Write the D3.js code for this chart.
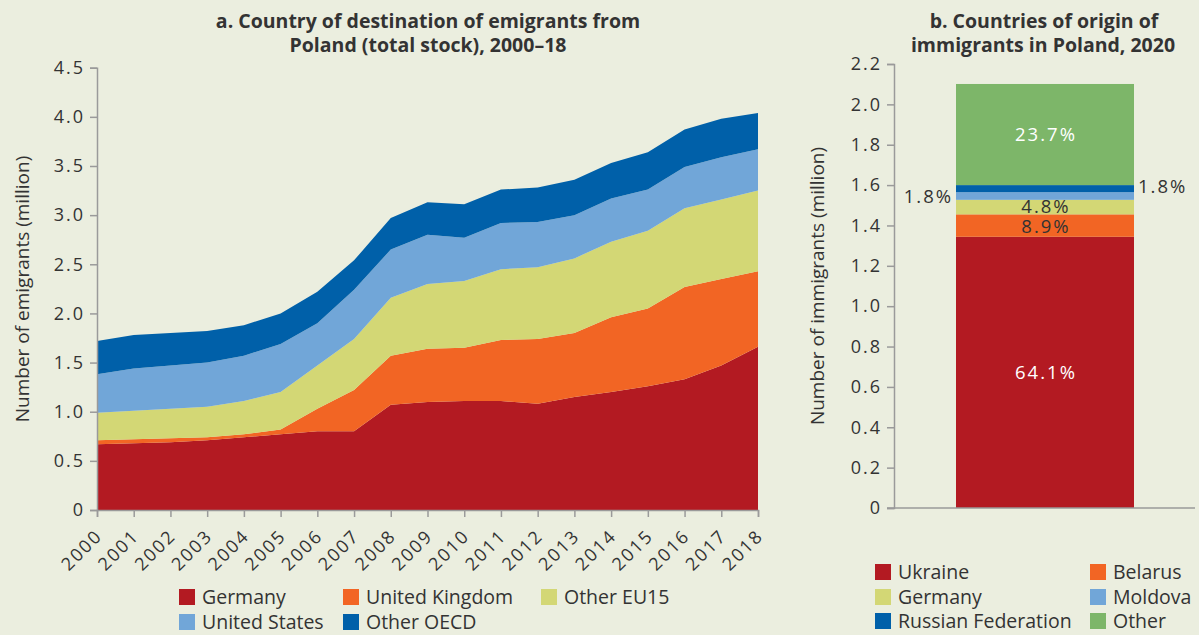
<!DOCTYPE html>
<html><head><meta charset="utf-8">
<script src="https://cdn.jsdelivr.net/npm/d3@7"></script>
<style>
html,body{margin:0;padding:0;background:#EBEEDF;}
svg{display:block;font-family:"Open Sans",sans-serif;}
</style></head><body>
<svg id="c" width="1199" height="635"></svg>
<script>
// ---- Data: panel a ----
const years = [2000,2001,2002,2003,2004,2005,2006,2007,2008,2009,2010,2011,2012,2013,2014,2015,2016,2017,2018];
const seriesNames = ["Germany","United Kingdom","Other EU15","United States","Other OECD"];
const germany  = [0.67,0.68,0.69,0.71,0.74,0.77,0.80,0.80,1.07,1.10,1.11,1.11,1.08,1.15,1.20,1.26,1.33,1.47,1.66];
const uk       = [0.04,0.04,0.04,0.03,0.03,0.05,0.23,0.42,0.50,0.54,0.54,0.62,0.66,0.65,0.76,0.79,0.94,0.88,0.77];
const otherEU  = [0.28,0.29,0.30,0.31,0.34,0.38,0.44,0.52,0.59,0.66,0.68,0.72,0.73,0.76,0.77,0.79,0.80,0.81,0.82];
const usa      = [0.39,0.43,0.44,0.45,0.46,0.49,0.43,0.50,0.49,0.50,0.44,0.47,0.46,0.44,0.44,0.42,0.42,0.43,0.42];
const otherOECD= [0.34,0.34,0.33,0.32,0.31,0.31,0.32,0.30,0.32,0.33,0.34,0.34,0.35,0.36,0.36,0.38,0.38,0.39,0.37];
const yTicksA = [0,0.5,1.0,1.5,2.0,2.5,3.0,3.5,4.0,4.5];
const yTickLabelsA = ["0","0.5","1.0","1.5","2.0","2.5","3.0","3.5","4.0","4.5"];

// ---- Data: panel b ----
const origins = ["Ukraine","Belarus","Germany","Moldova","Russian Federation","Other"];
const originValues = [1.344,0.111,0.072,0.038,0.035,0.501];
const originLabels = ["64.1%","8.9%","4.8%","1.8%","1.8%","23.7%"];
const yTicksB = [0,0.2,0.4,0.6,0.8,1.0,1.2,1.4,1.6,1.8,2.0,2.2];
const yTickLabelsB = ["0","0.2","0.4","0.6","0.8","1.0","1.2","1.4","1.6","1.8","2.0","2.2"];

const colorsA = ["#B31A22","#F26524","#D3D775","#71A6D8","#0060A9"];
const colorsB = ["#B31A22","#F26524","#D3D775","#71A6D8","#0060A9","#7DB669"];
const txt = "#333333", axisCol = "#9a9a9a";
const FONT = "'Open Sans',sans-serif";

const svg = d3.select("#c");

// ================= Panel a =================
const xA = d3.scaleLinear().domain([2000,2018]).range([97,758]);
const yA = d3.scaleLinear().domain([0,4.5]).range([510,67.7]);

const table = years.map((y,i)=>({year:y,"Germany":germany[i],"United Kingdom":uk[i],"Other EU15":otherEU[i],"United States":usa[i],"Other OECD":otherOECD[i]}));
const stacked = d3.stack().keys(seriesNames)(table);
const area = d3.area().x(d=>xA(d.data.year)).y0(d=>yA(d[0])).y1(d=>yA(d[1]));
svg.append("g").selectAll("path").data(stacked).join("path")
  .attr("d",area).attr("fill",(d,i)=>colorsA[i]);

const axA = svg.append("g").attr("transform","translate(97,0)")
  .call(d3.axisLeft(yA).tickValues(yTicksA).tickFormat((d,i)=>yTickLabelsA[i]).tickSize(7).tickPadding(5));
const axXA = svg.append("g").attr("transform","translate(0,510)")
  .call(d3.axisBottom(xA).tickValues(years).tickFormat(d3.format("d")).tickSize(7));
[axA,axXA].forEach(g=>{
  g.select(".domain").attr("stroke",axisCol).attr("stroke-width",1.5);
  g.selectAll(".tick line").attr("stroke",axisCol).attr("stroke-width",1.5);
  g.selectAll("text").attr("fill",txt).style("font-size","18px").style("letter-spacing","2px").style("font-family",FONT);
});
axXA.selectAll(".tick text").attr("text-anchor","end").attr("dy",null).attr("y",0)
  .attr("transform","translate(6,27) rotate(-45)");

svg.append("text").attr("x",428).attr("y",28).attr("text-anchor","middle")
  .attr("fill",txt).style("font-weight","bold").style("font-size","19.5px")
  .text("a. Country of destination of emigrants from");
svg.append("text").attr("x",428).attr("y",52).attr("text-anchor","middle")
  .attr("fill",txt).style("font-weight","bold").style("font-size","19.5px")
  .text("Poland (total stock), 2000–18");
svg.append("text").attr("transform","translate(29,289) rotate(-90)").attr("text-anchor","middle")
  .attr("fill",txt).style("font-size","19px").text("Number of emigrants (million)");

// legend a
const legA = [[179,597],[343,597],[541,597],[179,622],[343,622]];
seriesNames.forEach((n,i)=>{
  const g = svg.append("g").attr("transform",`translate(${legA[i][0]},${legA[i][1]})`);
  g.append("rect").attr("x",0).attr("y",-8).attr("width",16).attr("height",16).attr("fill",colorsA[i]);
  g.append("text").attr("x",23).attr("y",0).attr("dy","0.36em").attr("fill",txt).style("font-size","19.5px").text(n);
});

// ================= Panel b =================
const yB = d3.scaleLinear().domain([0,2.2]).range([508,64]);
let cum = 0;
const segs = originValues.map((v,i)=>{const s={name:origins[i],y0:cum,y1:cum+v,i}; cum+=v; return s;});
svg.append("g").selectAll("rect").data(segs).join("rect")
  .attr("x",956).attr("width",178)
  .attr("y",d=>yB(d.y1)).attr("height",d=>yB(d.y0)-yB(d.y1))
  .attr("fill",d=>colorsB[d.i]);

const axB = svg.append("g").attr("transform","translate(894,0)")
  .call(d3.axisLeft(yB).tickValues(yTicksB).tickFormat((d,i)=>yTickLabelsB[i]).tickSize(7).tickPadding(5));
axB.select(".domain").attr("stroke",axisCol).attr("stroke-width",1.5);
axB.selectAll(".tick line").attr("stroke",axisCol).attr("stroke-width",1.5);
axB.selectAll("text").attr("fill",txt).style("font-size","18px").style("letter-spacing","2px").style("font-family",FONT);
svg.append("line").attr("x1",887).attr("x2",1195).attr("y1",yB(0)).attr("y2",yB(0)).attr("stroke",axisCol).attr("stroke-width",1.5);

// segment labels
const mid = s => yB((s.y0+s.y1)/2);
const labelSpec = [
  {i:0,x:1046,anchor:"middle",fill:"#ffffff",dy:0},
  {i:1,x:1046,anchor:"middle",fill:txt,dy:1},
  {i:2,x:1046,anchor:"middle",fill:txt,dy:-1},
  {i:3,x:953,anchor:"end",fill:txt,dy:0},
  {i:4,x:1138,anchor:"start",fill:txt,dy:-2},
  {i:5,x:1046,anchor:"middle",fill:"#ffffff",dy:0}
];
labelSpec.forEach(l=>{
  svg.append("text").attr("x",l.x).attr("y",mid(segs[l.i])+l.dy).attr("dy","0.36em")
    .attr("text-anchor",l.anchor).attr("fill",l.fill).style("font-size","18.5px").style("letter-spacing","2px")
    .text(originLabels[l.i]);
});

svg.append("text").attr("x",1044).attr("y",28).attr("text-anchor","middle")
  .attr("fill",txt).style("font-weight","bold").style("font-size","19.5px").text("b. Countries of origin of");
svg.append("text").attr("x",1043).attr("y",52).attr("text-anchor","middle")
  .attr("fill",txt).style("font-weight","bold").style("font-size","19.5px").text("immigrants in Poland, 2020");
svg.append("text").attr("transform","translate(824,286) rotate(-90)").attr("text-anchor","middle")
  .attr("fill",txt).style("font-size","19px").text("Number of immigrants (million)");

// legend b
const legB = [[875,572],[1090,572],[875,597],[1090,597],[875,621],[1090,621]];
origins.forEach((n,i)=>{
  const g = svg.append("g").attr("transform",`translate(${legB[i][0]},${legB[i][1]})`);
  g.append("rect").attr("x",0).attr("y",-8).attr("width",16).attr("height",16).attr("fill",colorsB[i]);
  g.append("text").attr("x",23).attr("y",0).attr("dy","0.36em").attr("fill",txt).style("font-size","19.5px").text(n);
});
</script>
</body></html>
